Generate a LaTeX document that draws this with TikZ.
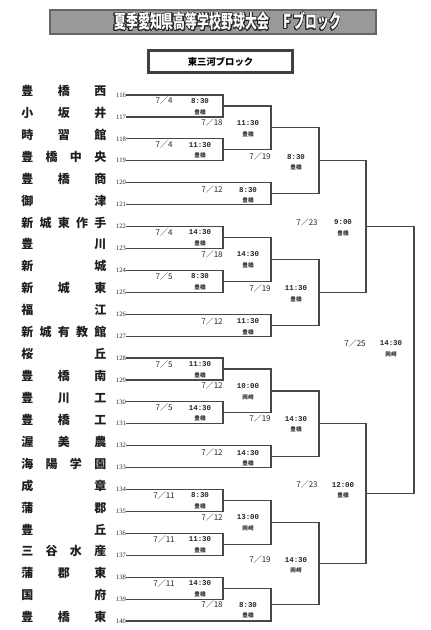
\documentclass[tikz,border=0pt]{standalone}
\usepackage{fontspec}
\usepackage[copies]{contour}
\usetikzlibrary{calc}
\setmainfont{Liberation Serif}
\setmonofont{Liberation Mono}
\newfontfamily\jp{Noto Sans CJK JP}
\newfontfamily\jptitle[FakeStretch=0.64]{Noto Sans CJK JP}
\contourlength{0.45pt}
\contournumber{24}
% one game: two lines in, vertical at the x of #3, result coordinate #4
\newcommand{\game}[8]{%
  \draw[line] (#1) -- (#1 -| #3) -- (#2 -| #3) -- (#2);
  \coordinate (#4) at ($(#1 -| #3)!0.5!(#2 -| #3)$);
  \node[date] (#4d) at ($(#4)+(-59,#8)$) {#5};
  \node[time] (#4t) at ($(#4)+(-23,#8)$) {#6};
  \node[venue] (#4v) at ($(#4)+(-23,#8+11)$) {#7};
}

\begin{document}
\begin{tikzpicture}[
    x=0.75pt,y=-0.75pt,
    line/.style={draw=black!72,line width=0.9pt,line cap=rect},
    titlebox/.style={draw=black!60,fill=black!40,line width=0.8pt,minimum width=244.5pt,minimum height=18pt,inner sep=0pt,font=\jptitle\bfseries\fontsize{14}{14}\selectfont},
    subbox/.style={draw=black!75,line width=1.6pt,fill=white,minimum width=108pt,minimum height=16.5pt,inner sep=0pt,font=\jp\bfseries\fontsize{7}{7}\selectfont},
    team/.style={anchor=west,inner sep=0pt,text=black!88,font=\jp\bfseries\fontsize{9}{9}\selectfont},
    num/.style={anchor=east,inner sep=0.6pt,text=black!85,font=\fontsize{5}{5}\selectfont},
    date/.style={inner sep=0pt,text=black!85,font=\jp\fontsize{6}{6}\selectfont},
    time/.style={inner sep=0pt,text=black!85,font=\ttfamily\bfseries\fontsize{5.6}{5.6}\selectfont},
    venue/.style={inner sep=0pt,text=black!80,font=\jp\bfseries\fontsize{4.2}{4.2}\selectfont}
  ]
  \useasboundingbox[fill=white] (0,0) rectangle (430,630);

  \node[titlebox] (title) at (213,22) {\hspace*{22pt}\contour{black!85}{\textcolor{white}{夏季愛知県高等学校野球大会　Ｆブロック}}};
  \node[subbox] (block) at (220.5,61.5) {東三河ブロック};

  \coordinate (r1) at (223,0);
  \coordinate (r2) at (271,0);
  \coordinate (r3) at (319,0);
  \coordinate (r4) at (366,0);
  \coordinate (r5) at (414,0);

  \foreach \n/\name in {116/豊\hfill 橋\hfill 西, 117/小\hfill 坂\hfill 井, 118/時\hfill 習\hfill 館,
      119/豊\hfill 橋\hfill 中\hfill 央, 120/豊\hfill 橋\hfill 商, 121/御\hfill 津,
      122/新\hfill 城\hfill 東\hfill 作\hfill 手, 123/豊\hfill 川, 124/新\hfill 城,
      125/新\hfill 城\hfill 東, 126/福\hfill 江, 127/新\hfill 城\hfill 有\hfill 教\hfill 館,
      128/桜\hfill 丘, 129/豊\hfill 橋\hfill 南, 130/豊\hfill 川\hfill 工,
      131/豊\hfill 橋\hfill 工, 132/渥\hfill 美\hfill 農, 133/海\hfill 陽\hfill 学\hfill 園,
      134/成\hfill 章, 135/蒲\hfill 郡, 136/豊\hfill 丘,
      137/三\hfill 谷\hfill 水\hfill 産, 138/蒲\hfill 郡\hfill 東, 139/国\hfill 府,
      140/豊\hfill 橋\hfill 東} {
    \pgfmathsetmacro{\ry}{95+(\n-116)*21.92}
    \node[team] (t\n) at (21,\ry-4) {\makebox[63.75pt]{\name}};
    \node[num] (n\n) at (127,\ry) {\n};
    \coordinate (e\n) at (223,\ry);
    \draw[line] (n\n.east) -- (e\n);
  }

  % first round
  \game{e116}{e117}{r1}{a1}{7／4}{8:30}{豊橋}{-5}
  \game{e118}{e119}{r1}{a2}{7／4}{11:30}{豊橋}{-5}
  \game{e122}{e123}{r1}{a3}{7／4}{14:30}{豊橋}{-5}
  \game{e124}{e125}{r1}{a4}{7／5}{8:30}{豊橋}{-5}
  \game{e128}{e129}{r1}{a5}{7／5}{11:30}{豊橋}{-5}
  \game{e130}{e131}{r1}{a6}{7／5}{14:30}{豊橋}{-5}
  \game{e134}{e135}{r1}{a7}{7／11}{8:30}{豊橋}{-5}
  \game{e136}{e137}{r1}{a8}{7／11}{11:30}{豊橋}{-5}
  \game{e138}{e139}{r1}{a9}{7／11}{14:30}{豊橋}{-5}
  % second round
  \game{a1}{a2}{r2}{b1}{7／18}{11:30}{豊橋}{-5}
  \game{e120}{e121}{r2}{b2}{7／12}{8:30}{豊橋}{-4}
  \game{a3}{a4}{r2}{b3}{7／18}{14:30}{豊橋}{-5}
  \game{e126}{e127}{r2}{b4}{7／12}{11:30}{豊橋}{-4}
  \game{a5}{a6}{r2}{b5}{7／12}{10:00}{岡崎}{-5}
  \game{e132}{e133}{r2}{b6}{7／12}{14:30}{豊橋}{-4}
  \game{a7}{a8}{r2}{b7}{7／12}{13:00}{岡崎}{-5}
  \game{a9}{e140}{r2}{b8}{7／18}{8:30}{豊橋}{0}
  % third round
  \game{b1}{b2}{r3}{c1}{7／19}{8:30}{豊橋}{-4}
  \game{b3}{b4}{r3}{c2}{7／19}{11:30}{豊橋}{-4}
  \game{b5}{b6}{r3}{c3}{7／19}{14:30}{豊橋}{-5}
  \game{b7}{b8}{r3}{c4}{7／19}{14:30}{岡崎}{-4}
  % semifinals and final
  \game{c1}{c2}{r4}{d1}{7／23}{9:00}{豊橋}{-4}
  \game{c3}{c4}{r4}{d2}{7／23}{12:00}{豊橋}{-9}
  \game{d1}{d2}{r5}{f1}{7／25}{14:30}{岡崎}{-17}
\end{tikzpicture}
\end{document}
